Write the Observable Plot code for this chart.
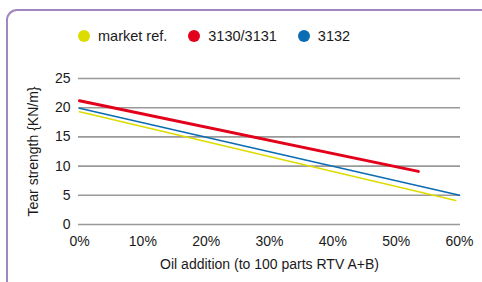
<!DOCTYPE html>
<html>
<head>
<meta charset="utf-8">
<script src="https://cdn.jsdelivr.net/npm/d3@7"></script>
<script src="https://cdn.jsdelivr.net/npm/@observablehq/plot@0.6"></script>
<style>
  html, body { margin: 0; padding: 0; width: 482px; height: 282px; overflow: hidden; background: #fff; }
  body { position: relative; font-family: "Liberation Sans", Arial, Helvetica, sans-serif; color: #1a1a1a; }
  #frame { position: absolute; left: 6px; top: 9px; width: 700px; height: 500px;
           border-left: 2.5px solid #a286c0; border-top: 2.5px solid #a286c0; border-top-left-radius: 11px; box-sizing: border-box; }
  #legend { position: absolute; left: 78px; top: 27px; height: 18px; display: flex; align-items: center; font-size: 14.5px; }
  .item { display: flex; align-items: center; margin-right: 21px; }
  .dot { width: 12px; height: 12px; border-radius: 50%; margin-right: 8px; }
  #chart { position: absolute; left: 0; top: 60px; }
</style>
</head>
<body>
<div id="frame"></div>
<div id="legend"></div>
<div id="chart"></div>
<script>
// Data
const seriesNames = ["market ref.", "3130/3131", "3132"];
const seriesColors = ["#dcdc00", "#e2001a", "#0a6cb2"];
const seriesWidths = [1.6, 3, 1.6];
const marketX = [0, 0.594];
const marketY = [19.3, 4.1];
const redX = [0, 0.535];
const redY = [21.2, 9.1];
const blueX = [0, 0.6];
const blueY = [19.9, 5.0];
const xTicks = [0, 0.1, 0.2, 0.3, 0.4, 0.5, 0.6];
const yTicks = [0, 5, 10, 15, 20, 25];
const xLabel = "Oil addition (to 100 parts RTV A+B)";
const yLabel = "Tear strength {KN/m}";

const seriesX = [marketX, redX, blueX];
const seriesY = [marketY, redY, blueY];
const rows = [];
seriesNames.forEach((name, i) => {
  seriesX[i].forEach((x, j) => rows.push({series: name, x, y: seriesY[i][j]}));
});

// Legend
const legend = document.getElementById("legend");
seriesNames.forEach((name, i) => {
  const it = document.createElement("div");
  it.className = "item";
  const d = document.createElement("span");
  d.className = "dot";
  d.style.background = seriesColors[i];
  const t = document.createElement("span");
  t.textContent = name;
  it.appendChild(d); it.appendChild(t);
  legend.appendChild(it);
});

const chart = Plot.plot({
  width: 482,
  height: 222,
  marginLeft: 78,
  marginRight: 22,
  marginTop: 18,
  marginBottom: 58,
  style: { fontFamily: "'Liberation Sans', Arial, Helvetica, sans-serif", fontSize: "14px", color: "#1a1a1a", background: "transparent" },
  x: { domain: [0, 0.6], insetLeft: 1, insetRight: 1 },
  y: { domain: [0, 25] },
  color: { domain: seriesNames, range: seriesColors },
  marks: [
    Plot.ruleY(yTicks, { stroke: "#999", strokeWidth: 1.6 }),
    Plot.axisY(yTicks, { tickSize: 0, tickPadding: 8, label: yLabel, labelAnchor: "center", labelArrow: "none", labelOffset: 50, fontSize: 14 }),
    Plot.axisX(xTicks, { tickSize: 0, tickPadding: 12, tickFormat: d3.format(".0%"), label: xLabel, labelAnchor: "center", labelArrow: "none", labelOffset: 44, fontSize: 14 }),
    ...seriesNames.map((name, i) =>
      Plot.line(rows.filter(r => r.series === name), { x: "x", y: "y", stroke: seriesColors[i], strokeWidth: seriesWidths[i] })
    )
  ]
});
document.getElementById("chart").appendChild(chart);
</script>
</body>
</html>
